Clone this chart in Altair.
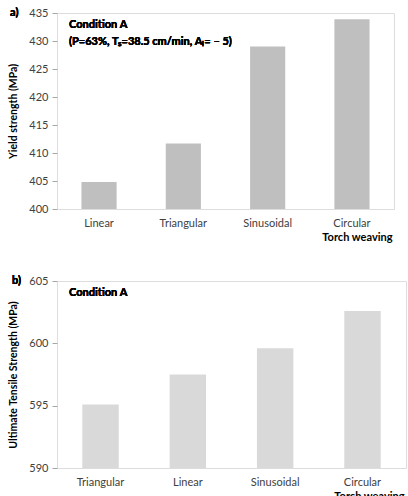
import altair as alt
import pandas as pd

cats_a = ["Linear", "Triangular", "Sinusoidal", "Circular"]
ys_a = [404.8, 411.7, 429.0, 433.9]
ticks_a = [400, 405, 410, 415, 420, 425, 430, 435]

cats_b = ["Triangular", "Linear", "Sinusoidal", "Circular"]
uts_b = [595.1, 597.5, 599.6, 602.6]
ticks_b = [590, 595, 600, 605]

FONT = "Lato"
df_a = pd.DataFrame({"cat": cats_a, "val": ys_a})
df_b = pd.DataFrame({"cat": cats_b, "val": uts_b})


def panel(df, cats, domain, ticks, ytitle, color, w, h, letter, lines, letter_x):
    xenc = alt.X("cat:N", sort=cats,
                 scale=alt.Scale(paddingInner=0.583, paddingOuter=0.29),
                 axis=alt.Axis(title="Torch weaving", labelAngle=0, ticks=False,
                               domain=False, labelPadding=8, labelFontSize=11,
                               labelColor="#404040", labelFont=FONT,
                               titleFont=FONT, titleFontSize=11, titleFontWeight="bold",
                               titleAnchor="end", titleAlign="right", titleX=w - 2,
                               titlePadding=3, titleColor="#000000"))
    yenc = alt.Y("val:Q", scale=alt.Scale(domain=domain, zero=False, nice=False),
                 axis=alt.Axis(title=ytitle, values=ticks, grid=False, domain=False,
                               tickSize=5, tickColor="#a6a6a6", labelPadding=4,
                               labelFontSize=11, labelColor="#404040", labelFont=FONT,
                               titleFont=FONT, titleFontSize=10.5, titleFontWeight="bold",
                               titlePadding=10, titleColor="#000000"))
    bars = alt.Chart(df).mark_bar(color=color).encode(
        x=xenc, y=yenc, y2=alt.datum(domain[0]))
    layers = [bars]
    layers.append(alt.Chart(df).mark_text(text=letter, font=FONT, fontSize=11,
                                          fontWeight="bold", align="left",
                                          baseline="middle").encode(
        x=alt.value(letter_x), y=alt.value(0)))
    for i, ln in enumerate(lines):
        layers.append(alt.Chart(df).mark_text(text=ln, font=FONT, fontSize=11,
                                              fontWeight="bold", align="left",
                                              baseline="middle").encode(
            x=alt.value(12), y=alt.value(12 + 17 * i)))
    return alt.layer(*layers).properties(width=w, height=h)


a = panel(df_a, cats_a, [400, 435], ticks_a, "Yield strength (MPa)", "#bfbfbf",
          337, 196, "a)", ["Condition A", "(P=63%, Tₛ=38.5 cm/min, Aₗ= – 5)"], -47)
b = panel(df_b, cats_b, [590, 605], ticks_b, "Ultimate Tensile Strength (MPa)", "#d9d9d9",
          349, 187, "b)", ["Condition A"], -45)

chart = alt.vconcat(a, b, spacing=31).configure_view(
    stroke="#b0b0b0", strokeWidth=1).configure(
    padding={"left": 8, "top": 6, "right": 0, "bottom": 0}, background="white")

chart.save("out.html", embed_options={"renderer": "svg", "actions": False})
